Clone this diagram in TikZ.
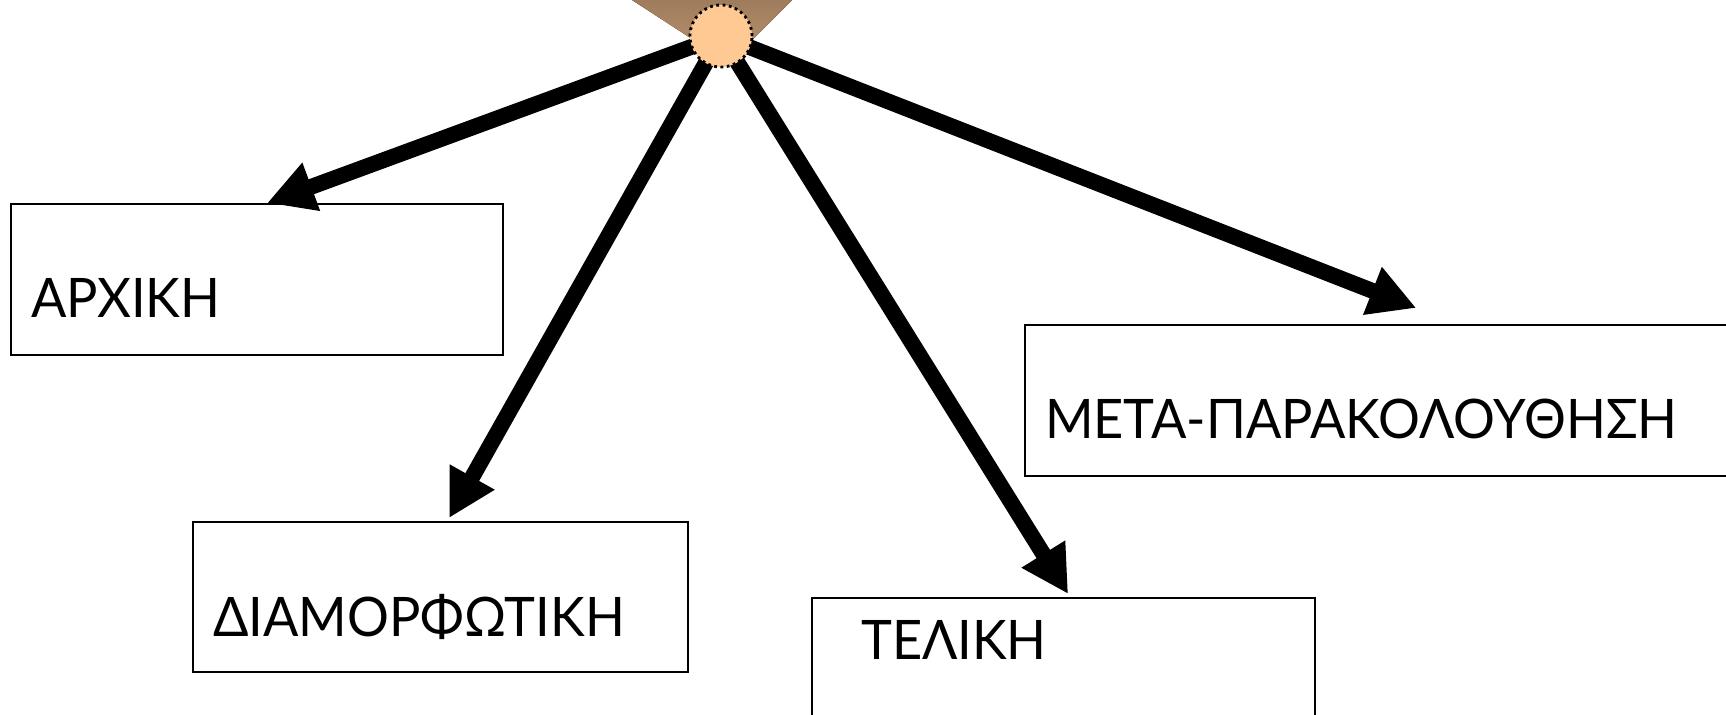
\documentclass[tikz,border=0pt]{standalone}
\usepackage{fontspec}
\setmainfont{Lato}[FakeStretch=0.96]
\usetikzlibrary{arrows.meta, positioning, backgrounds}
\definecolor{peach}{HTML}{FFC993}
\definecolor{funneltop}{HTML}{9E7C5C}
\definecolor{funnelbot}{HTML}{BE9570}

\begin{document}
\begin{tikzpicture}[x=0.01cm, y=-0.01cm, thick,
  stage/.style={draw, line width=0.6pt, anchor=north west, align=left, inner ysep=0pt, inner xsep=0.2cm, font=\fontsize{15.5}{18}\selectfont},
  flow/.style={line width=4.5pt, -{Triangle[length=0.47cm, width=0.48cm]}}]
  \useasboundingbox (0,0) rectangle (1726,715);

  % Nodes
  \node[circle, draw, densely dotted, line width=0.8pt, fill=peach, minimum size=0.62cm, inner sep=0pt] (hub) at (721,36) {};
  \node[stage, text width=4.52cm, text height=1.13cm, text depth=0.38cm] (initial) at (10,203) {ΑΡΧΙΚΗ};
  \node[stage, text width=4.55cm, text height=1.14cm, text depth=0.36cm] (formative) at (192,521) {ΔΙΑΜΟΡΦΩΤΙΚΗ};
  \node[stage, inner xsep=0.49cm, text width=4.05cm, text height=0.61cm, text depth=0.89cm] (final) at (811,597) {ΤΕΛΙΚΗ};
  \node[stage, text width=7.0cm, text height=1.13cm, text depth=0.38cm] (followup) at (1024,324) {ΜΕΤΑ-ΠΑΡΑΚΟΛΟΥΘΗΣΗ};

  % Arrow ends
  \coordinate (initial-in) at ([xshift=2.57cm]initial.north west);
  \coordinate (formative-in) at ([xshift=2.57cm, yshift=0.03cm]formative.north west);
  \coordinate (final-in) at ([xshift=2.57cm, yshift=0.03cm]final.north west);
  \coordinate (followup-in) at ([xshift=3.92cm, yshift=0.16cm]followup.north west);

  % Connections
  \begin{scope}[on background layer]
    \fill[top color=funneltop, bottom color=funnelbot] (632,0) -- (792,0) -- (729,63) -- cycle;
    \draw[flow] (hub.center) -- (initial-in);
    \draw[flow] (hub.center) -- (formative-in);
    \draw[flow] (hub.center) -- (final-in);
    \draw[flow] (hub.center) -- (followup-in);
  \end{scope}
\end{tikzpicture}
\end{document}
